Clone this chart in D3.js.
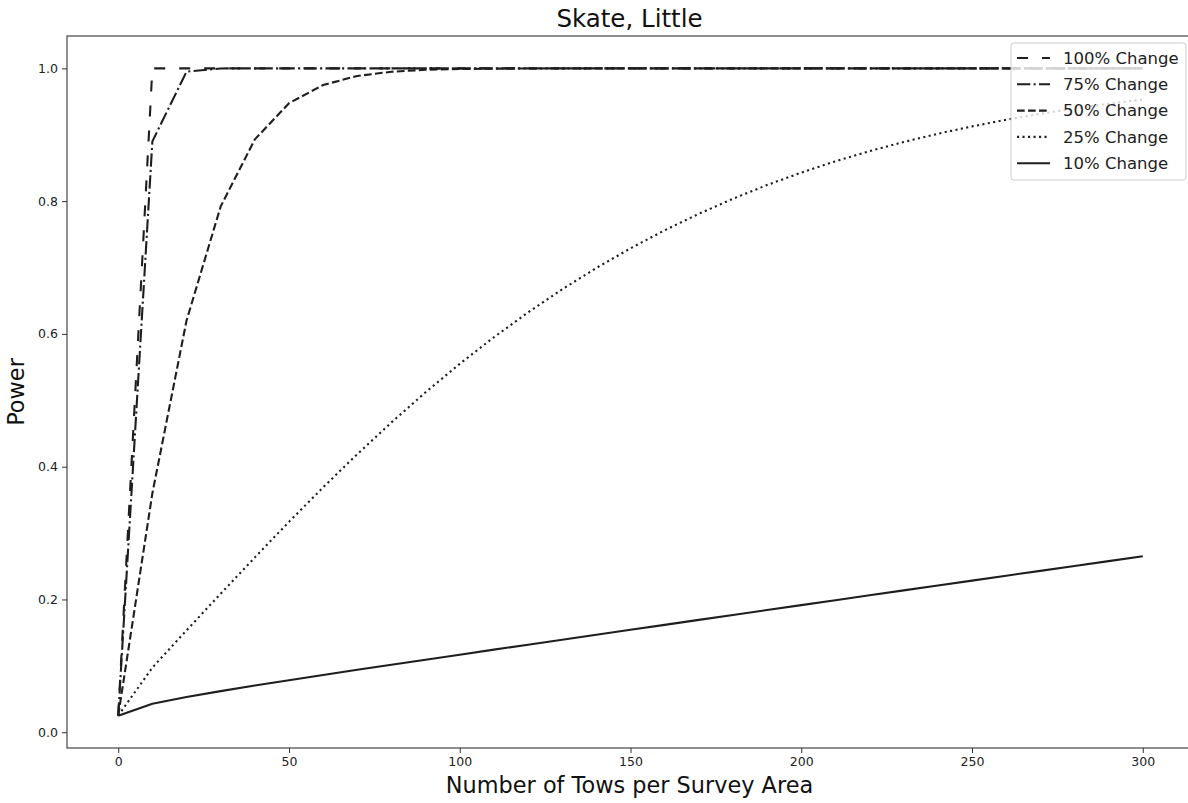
<!DOCTYPE html>
<html>
<head>
<meta charset="utf-8">
<script src="https://cdn.jsdelivr.net/npm/d3@7"></script>
<style>
  html, body { margin: 0; padding: 0; background: #fff; }
  svg { display: block; font-family: "DejaVu Sans", sans-serif; }
</style>
</head>
<body>
<svg id="chart" width="1188" height="803"></svg>
<script>
// ---- data ----
const tows = [0,10,20,30,40,50,60,70,80,90,100,110,120,130,140,150,160,170,180,190,200,210,220,230,240,250,260,270,280,290,300];
const change100 = [0.025,1,1,1,1,1,1,1,1,1,1,1,1,1,1,1,1,1,1,1,1,1,1,1,1,1,1,1,1,1,1];
const change75  = [0.025,0.89,0.995,0.9999,1,1,1,1,1,1,1,1,1,1,1,1,1,1,1,1,1,1,1,1,1,1,1,1,1,1,1];
const change50  = [0.025,0.36,0.62,0.792,0.893,0.9475,0.975,0.9886,0.9949,0.9978,0.999,0.9996,0.9998,1,1,1,1,1,1,1,1,1,1,1,1,1,1,1,1,1,1];
const change25  = [0.025,0.0974,0.1535,0.2087,0.2634,0.3169,0.3689,0.4189,0.4667,0.5121,0.5549,0.5950,0.6324,0.6672,0.6993,0.7289,0.7561,0.7809,0.8036,0.8243,0.8430,0.8600,0.8753,0.8891,0.9015,0.9126,0.9226,0.9315,0.9395,0.9466,0.9529];
const change10  = [0.025,0.0430,0.0530,0.0619,0.0703,0.0784,0.0862,0.0940,0.1017,0.1093,0.1168,0.1244,0.1319,0.1394,0.1468,0.1543,0.1617,0.1692,0.1766,0.1841,0.1915,0.1989,0.2063,0.2137,0.2210,0.2284,0.2358,0.2431,0.2504,0.2577,0.2650];
const seriesNames = ["100% Change","75% Change","50% Change","25% Change","10% Change"];
const xTicks = [0,50,100,150,200,250,300];
const yTicks = [0.0,0.2,0.4,0.6,0.8,1.0];
const titleText = "Skate, Little";
const xLabel = "Number of Tows per Survey Area";
const yLabel = "Power";

// ---- layout ----
const svg = d3.select("#chart");
const L = 67, T = 36, R = 1194, B = 748;
const x = d3.scaleLinear().domain([-15, 315]).range([L, R]);
const y = d3.scaleLinear().domain([-0.02375, 1.04875]).range([B, T]);

const ink = "#1e1e1e";
const dashes = ["11,14", "13.3,3.3,2.1,3.3", "7.7,3.3", "2.1,3.4", null];
const allSeries = [change100, change75, change50, change25, change10];

// lines
const line = d3.line().x(d => x(d[0])).y(d => y(d[1]));
const plot = svg.append("g");
allSeries.forEach((vals, i) => {
  const pts = tows.map((t, j) => [t, vals[j]]);
  plot.append("path")
    .attr("d", line(pts))
    .attr("fill", "none")
    .attr("stroke", ink)
    .attr("stroke-width", 2.1)
    .attr("stroke-dasharray", dashes[i])
    .attr("stroke-linejoin", "round");
});

// axes
const xAxis = d3.axisBottom(x).tickValues(xTicks).tickFormat(d3.format("d")).tickSize(5).tickPadding(4);
const yAxis = d3.axisLeft(y).tickValues(yTicks).tickFormat(d3.format(".1f")).tickSize(5).tickPadding(4);
const gx = svg.append("g").attr("transform", `translate(0,${B})`).call(xAxis);
const gy = svg.append("g").attr("transform", `translate(${L},0)`).call(yAxis);
[gx, gy].forEach(g => {
  g.select(".domain").remove();
  g.selectAll(".tick line").attr("stroke", "#333").attr("stroke-width", 1);
  g.selectAll(".tick text").attr("fill", "#222").style("font-size", "12.5px").style("font-family", "DejaVu Sans");
});

// frame
svg.append("rect").attr("x", L).attr("y", T).attr("width", R - L).attr("height", B - T)
  .attr("fill", "none").attr("stroke", "#333").attr("stroke-width", 1.1);

// legend
const lg = svg.append("g");
lg.append("rect").attr("x", 1011).attr("y", 43).attr("width", 175).attr("height", 137)
  .attr("rx", 3).attr("fill", "#fff").attr("fill-opacity", 0.8)
  .attr("stroke", "#ccc").attr("stroke-width", 1);
seriesNames.forEach((name, i) => {
  const yy = 58 + i * 26.3;
  lg.append("line").attr("x1", 1017).attr("x2", 1050).attr("y1", yy).attr("y2", yy)
    .attr("stroke", ink).attr("stroke-width", 2.1).attr("stroke-dasharray", dashes[i]);
  lg.append("text").attr("x", 1063).attr("y", yy).attr("dy", "0.35em")
    .style("font-size", "16.5px").attr("fill", "#222").text(name);
});

// titles
svg.append("text").attr("x", (L + R) / 2 - 1).attr("y", 27).attr("text-anchor", "middle")
  .style("font-size", "24.5px").attr("fill", "#111").text(titleText);
svg.append("text").attr("x", (L + R) / 2 - 1).attr("y", 793).attr("text-anchor", "middle")
  .style("font-size", "22.4px").attr("fill", "#111").text(xLabel);
svg.append("text").attr("transform", `translate(24,${(T + B) / 2}) rotate(-90)`).attr("text-anchor", "middle")
  .style("font-size", "22.4px").attr("fill", "#111").text(yLabel);
</script>
</body>
</html>
